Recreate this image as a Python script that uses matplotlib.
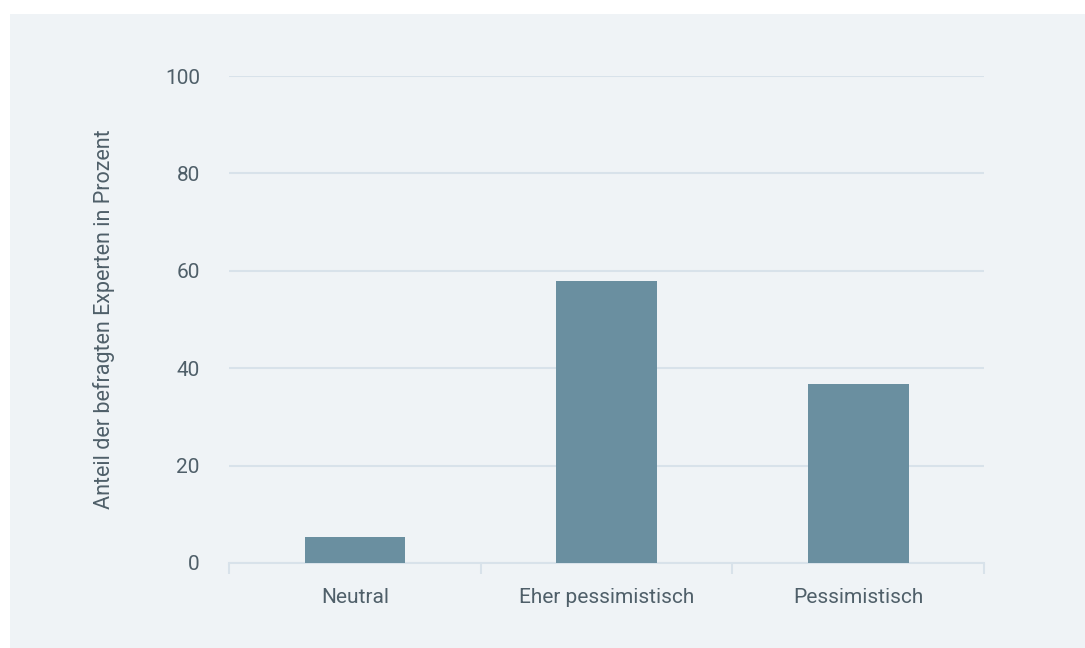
import matplotlib.pyplot as plt
import matplotlib.patches as mpatches
import numpy as np

# data
categories = ["Neutral", "Eher pessimistisch", "Pessimistisch"]
shares = [5.3, 57.9, 36.8]
y_ticks = [0, 20, 40, 60, 80, 100]

BG = "#eff3f6"
BAR = "#6a8fa0"
GRID = "#d8e2ea"
TEXT = "#4f5f69"

plt.rcParams['font.family'] = ['Roboto', 'DejaVu Sans']

W, H = 1085, 648
fig = plt.figure(figsize=(W / 100, H / 100), dpi=100)
fig.patch.set_facecolor("white")

# light panel behind the chart
fig.patches.append(mpatches.Rectangle((10 / W, 0), 1 - 10 / W, 1 - 14 / H,
                                      transform=fig.transFigure,
                                      facecolor=BG, edgecolor="none", zorder=-10))

ax = fig.add_axes([229 / W, 1 - 563 / H, (984 - 229) / W, (563 - 76) / H])
ax.set_facecolor(BG)

x = np.arange(len(categories))
ax.bar(x, shares, width=0.4, color=BAR, zorder=3)

ax.set_xlim(-0.5, len(categories) - 0.5)
ax.set_ylim(0, 100)
ax.set_yticks(y_ticks)
ax.set_yticklabels([str(v) for v in y_ticks])
ax.grid(axis="y", color=GRID, linewidth=1.5, zorder=0)

# category ticks sit on the boundaries, labels centred under bars
ax.set_xticks(np.arange(len(categories) + 1) - 0.5)
ax.set_xticklabels([])
ax.set_xticks(x, minor=True)
ax.set_xticklabels(categories, minor=True)
ax.tick_params(axis="x", which="major", length=8, color=GRID, width=1.5)
ax.tick_params(axis="x", which="minor", length=0, pad=18,
               labelsize=15, labelcolor=TEXT)
ax.tick_params(axis="y", length=0, pad=21, labelsize=15, labelcolor=TEXT)

for side in ["top", "right", "left"]:
    ax.spines[side].set_visible(False)
ax.spines["bottom"].set_color(GRID)
ax.spines["bottom"].set_linewidth(1.5)

ax.set_ylabel("Anteil der befragten Experten in Prozent", fontsize=15.5,
              color=TEXT, labelpad=36)

fig.savefig("out.png", dpi=100, facecolor=fig.get_facecolor())
